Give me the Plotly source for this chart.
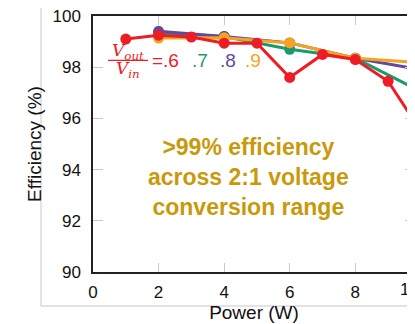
import plotly.graph_objects as go

power = [1, 2, 3, 4, 5, 6, 7, 8, 9, 10]
eff_06 = [99.1, 99.25, 99.18, 98.94, 98.94, 97.6, 98.5, 98.3, 97.45, 95.5]
power_even = [2, 4, 6, 8, 10]
eff_07 = [99.35, 99.2, 98.7, 98.35, 97.05]
eff_08 = [99.4, 99.2, 98.95, 98.35, 97.9]
eff_09 = [99.14, 99.15, 98.95, 98.35, 98.18]

x_ticks = [0, 2, 4, 6, 8]
y_ticks = [90, 92, 94, 96, 98, 100]

RED = "#ee1c24"
GREEN = "#1b9a6e"
PURPLE = "#65479e"
ORANGE = "#f5a320"
GOLD = "#c9990c"

fig = go.Figure()
series = [
    (power_even, eff_07, GREEN),
    (power_even, eff_08, PURPLE),
    (power_even, eff_09, ORANGE),
    (power, eff_06, RED),
]
for xs, ys, c in series:
    fig.add_trace(go.Scatter(
        x=xs, y=ys, mode="lines+markers",
        line=dict(color=c, width=3),
        marker=dict(color=c, size=11),
        cliponaxis=True, showlegend=False,
    ))

FAM = "Liberation Sans, Arial, sans-serif"
tick_font = dict(family=FAM, size=17, color="#111")
title_font = dict(family=FAM, size=19, color="#111")
X_MAX = 9.82
# the page body adds an 8px offset, so the figure is sized to fill the rest
fig.update_layout(
    width=407, height=316,
    margin=dict(l=85, r=0, t=8, b=52),
    paper_bgcolor="white", plot_bgcolor="white",
    xaxis=dict(range=[0, X_MAX], tickvals=x_ticks, ticks="inside", ticklen=9,
               tickcolor="#c8c8c8", tickwidth=1, showline=True, linecolor="#222",
               linewidth=1.5, mirror="ticks", showgrid=False, zeroline=False,
               tickfont=tick_font, automargin=False, ticklabelstandoff=4,
               ticklabeloverflow="allow",
               title=dict(text="Power (W)", font=title_font, standoff=3)),
    yaxis=dict(range=[90, 100], tickvals=y_ticks, ticks="inside", ticklen=10,
               tickcolor="#c8c8c8", tickwidth=1, showline=True, linecolor="#222",
               linewidth=1.5, mirror="ticks", showgrid=False, zeroline=False,
               tickfont=tick_font, automargin=False, ticklabelstandoff=7,
               ticklabeloverflow="allow",
               title=dict(text="Efficiency (%)", font=title_font, standoff=6)),
    font=dict(family=FAM),
)

# outer light frame
fig.add_shape(type="rect", xref="paper", yref="paper",
              x0=(41 - 93) / 322, x1=1.2, y0=(272 - 306) / 256, y1=(272 - 7) / 256,
              line=dict(color="#c8c8c8", width=1), fillcolor="rgba(0,0,0,0)", layer="below")

# cut-off "10" tick label at the right edge
fig.add_annotation(x=10 / X_MAX, y=0, xref="paper", yref="paper", text="10", showarrow=False,
                   yanchor="top", yshift=-6, font=tick_font)

# ratio legend
ital = dict(family="DejaVu Serif, serif", size=17, color=RED)
fig.add_annotation(x=1.07, y=98.63, text="<i>V<sub>out</sub></i>", showarrow=False, font=ital)
fig.add_annotation(x=1.07, y=97.92, text="<i>V<sub>in</sub></i>", showarrow=False, font=ital)
fig.add_shape(type="line", x0=0.46, x1=1.68, y0=98.27, y1=98.27, line=dict(color=RED, width=1.2))
leg_font = dict(family=FAM, size=19)
fig.add_annotation(x=1.74, y=98.27, text="=.6", showarrow=False, xanchor="left",
                   font=dict(leg_font, color=RED))
fig.add_annotation(x=3.26, y=98.27, text=".7", showarrow=False, xanchor="center",
                   font=dict(leg_font, color=GREEN))
fig.add_annotation(x=4.12, y=98.27, text=".8", showarrow=False, xanchor="center",
                   font=dict(leg_font, color=PURPLE))
fig.add_annotation(x=4.88, y=98.27, text=".9", showarrow=False, xanchor="center",
                   font=dict(leg_font, color=ORANGE))

# highlight text
fig.add_annotation(x=4.73, y=93.73, text="<b>>99% efficiency<br>across 2:1 voltage<br>conversion range</b>",
                   showarrow=False, align="center",
                   font=dict(family=FAM, size=23, color=GOLD))

fig.write_html("out.html")
